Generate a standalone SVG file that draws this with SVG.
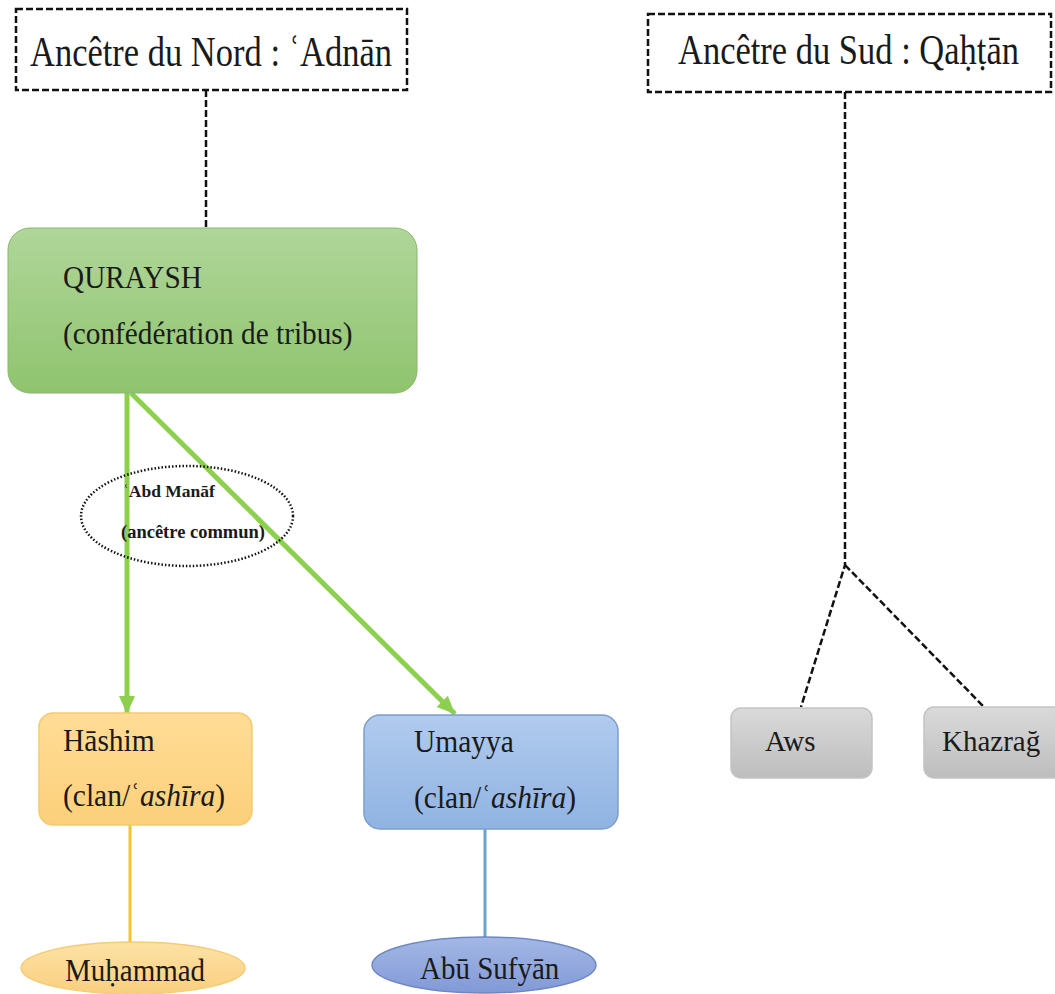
<svg xmlns="http://www.w3.org/2000/svg" width="1055" height="994" viewBox="0 0 1055 994">
<defs>
<style>
.dash{fill:#fff;stroke:#111;stroke-width:2.5;stroke-dasharray:7 3}
.dl{fill:none;stroke:#111;stroke-width:2.5;stroke-dasharray:7 3}
.g{fill:none;stroke:#8dd04f;stroke-width:5}
</style>
<linearGradient id="gG" x1="0" y1="0" x2="0" y2="1"><stop offset="0" stop-color="#b0d69a"/><stop offset="1" stop-color="#8fc46e"/></linearGradient>
<linearGradient id="gY" x1="0" y1="0" x2="0" y2="1"><stop offset="0" stop-color="#ffdc96"/><stop offset="1" stop-color="#fcd07a"/></linearGradient>
<linearGradient id="gB" x1="0" y1="0" x2="0" y2="1"><stop offset="0" stop-color="#b1cbee"/><stop offset="1" stop-color="#8fb3e2"/></linearGradient>
<linearGradient id="gS" x1="0" y1="0" x2="0" y2="1"><stop offset="0" stop-color="#dadada"/><stop offset="1" stop-color="#bdbdbd"/></linearGradient>
<linearGradient id="gYe" x1="0" y1="0" x2="0" y2="1"><stop offset="0" stop-color="#fde2a6"/><stop offset="1" stop-color="#f9cf7e"/></linearGradient>
<linearGradient id="gBe" x1="0" y1="0" x2="0" y2="1"><stop offset="0" stop-color="#a4b8e6"/><stop offset="1" stop-color="#8199d6"/></linearGradient>
<marker id="ah" markerUnits="userSpaceOnUse" markerWidth="20" markerHeight="20" viewBox="0 0 20 20" refX="18" refY="10" orient="auto"><path d="M0,2 L18,10 L0,18 Z" fill="#8dd04f"/></marker>
</defs>
<g id="connectors">
<path class="dl" d="M206,90 V228"/>
<path class="dl" d="M845,92 V565 L801,707"/>
<path class="dl" d="M845,565 L984,707"/>
<path class="g" d="M127,393 V714" marker-end="url(#ah)"/>
<path class="g" d="M131,393 L455,714" marker-end="url(#ah)"/>
<path d="M130,825 V942" stroke="#f2c233" stroke-width="3" fill="none"/>
<path d="M485,829 V938" stroke="#6aa3c9" stroke-width="3" fill="none"/>
</g>
<g font-family="'Liberation Serif', 'DejaVu Serif', 'Times New Roman', serif" fill="#1a1a1a">
<g id="north">
<rect class="dash" x="16" y="9" width="391" height="81"/>
<text transform="translate(30,66) scale(1,1.2)" x="0" y="0" font-size="34.5">Ancêtre du Nord : ʿAdnān</text>
</g>
<g id="south">
<rect class="dash" x="648" y="14" width="403" height="78"/>
<text transform="translate(678,64) scale(1,1.2)" x="0" y="0" font-size="34.5">Ancêtre du Sud : Qaḥṭān</text>
</g>
<g id="quraysh">
<rect x="8" y="228" width="409" height="165" rx="22" fill="url(#gG)" stroke="#86b86a" stroke-width="1"/>
<text transform="translate(63,288) scale(1,1.1)" font-size="29.3">QURAYSH</text>
<text transform="translate(63,344) scale(1,1.1)" font-size="29.3">(confédération de tribus)</text>
</g>
<g id="abdmanaf">
<ellipse cx="187" cy="516" rx="106" ry="50" fill="none" stroke="#111" stroke-width="2.5" stroke-dasharray="1.5 2"/>
<text x="123" y="497" font-size="17.5" font-weight="bold">ʿAbd Manāf</text>
<text x="121" y="538" font-size="18.5" font-weight="bold">(ancêtre commun)</text>
</g>
<g id="hashim">
<rect x="39" y="713" width="213" height="112" rx="14" fill="url(#gY)" stroke="#f3cb70" stroke-width="1.5"/>
<text transform="translate(63,751) scale(1,1.05)" font-size="29.5">Hāshim</text>
<text transform="translate(63,806) scale(1,1.05)" font-size="29.5">(clan/ʿ<tspan font-style="italic">ashīra</tspan>)</text>
</g>
<g id="umayya">
<rect x="364" y="715" width="254" height="114" rx="16" fill="url(#gB)" stroke="#7d9ec9" stroke-width="1.5"/>
<text transform="translate(414,752) scale(1,1.05)" font-size="29.5">Umayya</text>
<text transform="translate(414,808) scale(1,1.05)" font-size="29.5">(clan/ʿ<tspan font-style="italic">ashīra</tspan>)</text>
</g>
<g id="aws">
<rect x="731" y="708" width="141" height="70" rx="10" fill="url(#gS)" stroke="#c4c4c4" stroke-width="1.5"/>
<text transform="translate(765,751) scale(1,1.05)" font-size="29">Aws</text>
</g>
<g id="khazrag">
<rect x="924" y="707" width="145" height="71" rx="10" fill="url(#gS)" stroke="#c4c4c4" stroke-width="1.5"/>
<text transform="translate(942,751) scale(1,1.05)" font-size="29">Khazrağ</text>
</g>
<g id="muhammad">
<ellipse cx="133" cy="968" rx="112" ry="26" fill="url(#gYe)" stroke="#f5cb75" stroke-width="1.5"/>
<text transform="translate(65,981) scale(1,1.08)" font-size="29">Muḥammad</text>
</g>
<g id="abusufyan">
<ellipse cx="484" cy="965" rx="112" ry="28" fill="url(#gBe)" stroke="#6f87c4" stroke-width="1.5"/>
<text transform="translate(420,979) scale(1,1.08)" font-size="29">Abū Sufyān</text>
</g>
</g>
</svg>
